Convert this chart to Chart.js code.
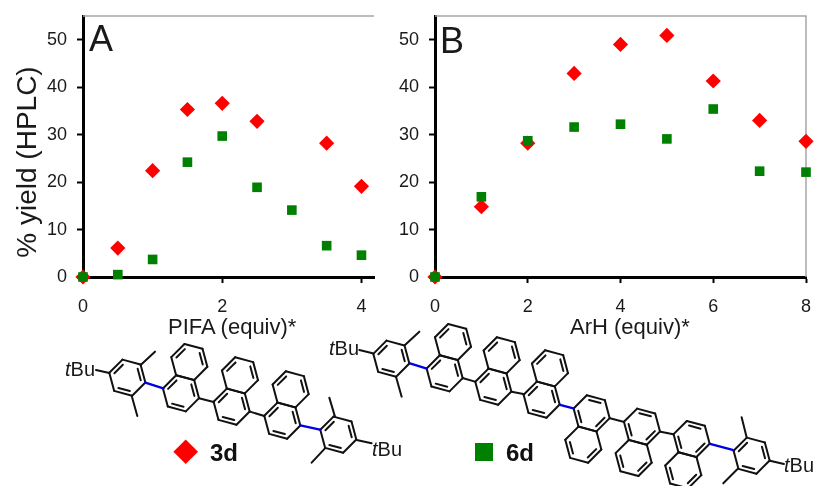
<!DOCTYPE html>
<html>
<head>
<meta charset="utf-8">
<title>% yield (HPLC)</title>
<script src="https://cdn.jsdelivr.net/npm/chart.js@4"></script>
<style>
  html, body { margin: 0; padding: 0; background: #fff; }
  #page { position: relative; width: 814px; height: 486px; overflow: hidden; font-family: "Liberation Sans", Arial, sans-serif; color: #1a1a1a; }
  canvas, svg { position: absolute; }
  #chartA { left: 0; top: 0; }
  #chartB { left: 351px; top: 0; }
  #mols { left: 0; top: 0; }
  .txt { position: absolute; white-space: nowrap; line-height: 1; }
  .panel { font-size: 36px; }
  .xtitle { font-size: 22px; }
  #ytitle { left: 27px; top: 162px; font-size: 28px; transform: translate(-50%, -50%) rotate(-90deg); }
</style>
</head>
<body>
<div id="page">
  <canvas id="chartA" width="400" height="340"></canvas>
  <canvas id="chartB" width="463" height="340"></canvas>
  <svg id="mols" width="814" height="486"></svg>
  <div class="txt panel" style="left:89px;top:21px">A</div>
  <div class="txt panel" style="left:440px;top:23px">B</div>
  <div class="txt" id="ytitle">% yield (HPLC)</div>
  <div class="txt xtitle" style="left:168px;top:316px">PIFA (equiv)*</div>
  <div class="txt xtitle" style="left:570px;top:316px">ArH (equiv)*</div>
</div>

<script>
'use strict';
// ******* Chart data *******
let xTicksA = [0, 2, 4];
let xTicksB = [0, 2, 4, 6, 8];
let yTicks = [0, 10, 20, 30, 40, 50];

let pifa3d = [0, 0.5, 1, 1.5, 2, 2.5, 3.5, 4];
let yieldA3d = [0, 6.1, 22.4, 35.3, 36.6, 32.8, 28.2, 19.1];
let pifa6d = [0, 0.5, 1, 1.5, 2, 2.5, 3, 3.5, 4];
let yieldA6d = [0, 0.5, 3.7, 24.2, 29.7, 18.9, 14.1, 6.6, 4.6];

let arh = [0, 1, 2, 3, 4, 5, 6, 7, 8];
let yieldB3d = [0, 14.8, 28.2, 42.9, 49, 50.9, 41.3, 33, 28.6];
let yieldB6d = [0, 16.9, 28.7, 31.6, 32.2, 29.1, 35.4, 22.3, 22.1];

function toPoints(xs, ys) {
  return xs.map((x, i) => ({ x: x, y: ys[i] }));
}

// grey frame lines on the sides that have no axis
function frameLines(showRight) {
  return {
    id: 'frameLines',
    beforeDatasetsDraw(chart) {
      let area = chart.chartArea;
      let c = chart.ctx;
      c.save();
      c.strokeStyle = '#a6a6a6';
      c.lineWidth = 1.5;
      c.beginPath();
      c.moveTo(area.left, area.top);
      c.lineTo(area.right, area.top);
      if (showRight) c.lineTo(area.right, area.bottom);
      c.stroke();
      c.restore();
    }
  };
}

function axisOptions(tickList, max, size) {
  return {
    type: 'linear',
    min: 0,
    max: max,
    border: { color: '#000', width: 3 },
    grid: { drawOnChartArea: false, drawTicks: true, tickLength: 6, tickWidth: 2, tickColor: '#000' },
    afterBuildTicks(scale) {
      scale.ticks = tickList.map(v => ({ value: v }));
    },
    afterFit(scale) {
      // the plot area is fixed, no extra room for the end tick labels
      scale.paddingTop = 0;
      scale.paddingBottom = 0;
      scale.paddingLeft = 0;
      scale.paddingRight = 0;
      if (scale.isHorizontal()) scale.height = size;
      else scale.width = size;
    },
    ticks: { color: '#1a1a1a', font: { family: '"Liberation Sans"', size: 18 }, maxRotation: 0, autoSkip: false, includeBounds: false }
  };
}

function makeChart(id, data3d, data6d, xTicks, xMax, leftSize, rightPad, showRight) {
  let xAxis = axisOptions(xTicks, xMax, 63);
  xAxis.ticks.padding = 13;
  let yAxis = axisOptions(yTicks, 55, leftSize);
  yAxis.ticks.padding = 10;

  return new Chart(document.getElementById(id), {
    type: 'scatter',
    data: {
      datasets: [
        { label: '3d', data: data3d, order: 2, clip: false, pointStyle: 'rectRot', pointRadius: 7.6, pointBackgroundColor: '#ff0000', pointBorderWidth: 0 },
        { label: '6d', data: data6d, order: 1, clip: false, pointStyle: 'rect', pointRadius: 6.8, pointBackgroundColor: '#008000', pointBorderWidth: 0 }
      ]
    },
    options: {
      responsive: false,
      animation: false,
      layout: { padding: { left: 0, top: 16, right: rightPad, bottom: 0 } },
      plugins: { legend: { display: false }, tooltip: { enabled: false } },
      scales: { x: xAxis, y: yAxis }
    },
    plugins: [frameLines(showRight)]
  });
}

makeChart('chartA', toPoints(pifa3d, yieldA3d), toPoints(pifa6d, yieldA6d), xTicksA, 4.18, 83, 26, false);
makeChart('chartB', toPoints(arh, yieldB3d), toPoints(arh, yieldB6d), xTicksB, 8, 84, 8, true);

// ******* Structures under the charts (plain svg drawing) *******
let svg = document.getElementById('mols');
const NS = 'http://www.w3.org/2000/svg';

function el(parent, name, attrs, text) {
  let node = document.createElementNS(NS, name);
  for (let key in attrs) node.setAttribute(key, attrs[key]);
  if (text) node.textContent = text;
  parent.appendChild(node);
  return node;
}

function bond(g, a, b, color) {
  el(g, 'line', { x1: a[0], y1: a[1], x2: b[0], y2: b[1], stroke: color || '#111', 'stroke-width': color ? 7 : 6, 'stroke-linecap': 'round' });
}

// hexagon on the 15 degree lattice, inner lines for the listed edges
function ring(g, cx, cy, doubles) {
  let pts = [];
  for (let k = 0; k < 6; k++) {
    let a = (15 + 60 * k) * Math.PI / 180;
    pts.push([cx + 56 * Math.cos(a), cy + 56 * Math.sin(a)]);
  }
  for (let k = 0; k < 6; k++) bond(g, pts[k], pts[(k + 1) % 6]);
  doubles.forEach(k => {
    let a = pts[k];
    let b = pts[(k + 1) % 6];
    let ia = [cx + (a[0] - cx) * 0.76, cy + (a[1] - cy) * 0.76];
    let ib = [cx + (b[0] - cx) * 0.76, cy + (b[1] - cy) * 0.76];
    let t = 0.08;
    bond(g, [ia[0] + (ib[0] - ia[0]) * t, ia[1] + (ib[1] - ia[1]) * t], [ib[0] + (ia[0] - ib[0]) * t, ib[1] + (ia[1] - ib[1]) * t]);
  });
}

const DOWN = [1, 3, 5];
const DOWN_BENZO = [3, 5];
const UP = [0, 2, 4];
const UP_BENZO = [0, 2];
const BLUE = '#0000e6';

// 3d, units are 3x page pixels
let g3 = el(svg, 'g', { transform: 'translate(50 330) scale(0.3333)' });
ring(g3, 232, 143, DOWN);
ring(g3, 393, 190, DOWN); ring(g3, 418, 96, DOWN_BENZO);
ring(g3, 545, 230, DOWN); ring(g3, 570, 136, DOWN_BENZO);
ring(g3, 697, 272, DOWN); ring(g3, 722, 178, DOWN_BENZO);
ring(g3, 865, 314, DOWN);
[[[138, 120], [178, 129]], [[272, 105], [315, 65]], [[245, 197], [262, 258]],
 [[447, 205], [491, 216]], [[600, 245], [643, 258]],
 [[855, 260], [838, 203]], [[825, 355], [785, 398]], [[920, 330], [965, 340]]
].forEach(b => bond(g3, b[0], b[1]));
bond(g3, [286, 158], [340, 175], BLUE);
bond(g3, [751, 286], [810, 299], BLUE);

// 6d
let g6 = el(svg, 'g', { transform: 'translate(320 330) scale(0.3333)' });
ring(g6, 214, 86, DOWN);
ring(g6, 374, 130, DOWN); ring(g6, 399, 36, DOWN_BENZO);
ring(g6, 520, 170, DOWN); ring(g6, 545, 76, DOWN_BENZO);
ring(g6, 665, 209, DOWN); ring(g6, 690, 115, DOWN_BENZO);
ring(g6, 815, 250, UP); ring(g6, 790, 344, UP_BENZO);
ring(g6, 966, 290, UP); ring(g6, 941, 384, UP_BENZO);
ring(g6, 1115, 327, UP); ring(g6, 1090, 421, UP_BENZO);
ring(g6, 1295, 377, DOWN);
[[[118, 60], [158, 70]], [[255, 45], [298, 5]], [[228, 140], [245, 200]],
 [[430, 145], [465, 155]], [[575, 185], [610, 192]],
 [[870, 265], [910, 275]], [[1022, 305], [1060, 313]],
 [[1280, 322], [1265, 262]], [[1252, 418], [1210, 460]], [[1350, 392], [1392, 402]]
].forEach(b => bond(g6, b[0], b[1]));
bond(g6, [270, 100], [318, 115], BLUE);
bond(g6, [720, 225], [760, 235], BLUE);
bond(g6, [1170, 342], [1238, 360], BLUE);

// group labels
function tBu(x, y) {
  let t = el(svg, 'text', { x: x, y: y, 'font-family': 'Liberation Sans', 'font-size': 20, fill: '#1a1a1a' });
  el(t, 'tspan', { 'font-style': 'italic' }, 't');
  el(t, 'tspan', {}, 'Bu');
}
tBu(65, 376);
tBu(372, 456);
tBu(329, 355);
tBu(784, 472);

// key
el(svg, 'path', { d: 'M185.7 439.5 L198 451.8 L185.7 464 L173.4 451.8 Z', fill: '#ff0000' });
el(svg, 'text', { x: 210, y: 461, 'font-family': 'Liberation Sans', 'font-weight': 'bold', 'font-size': 24, fill: '#111' }, '3d');
el(svg, 'rect', { x: 475, y: 443, width: 18, height: 18, fill: '#008000' });
el(svg, 'text', { x: 506, y: 461, 'font-family': 'Liberation Sans', 'font-weight': 'bold', 'font-size': 24, fill: '#111' }, '6d');
</script>
</body>
</html>
